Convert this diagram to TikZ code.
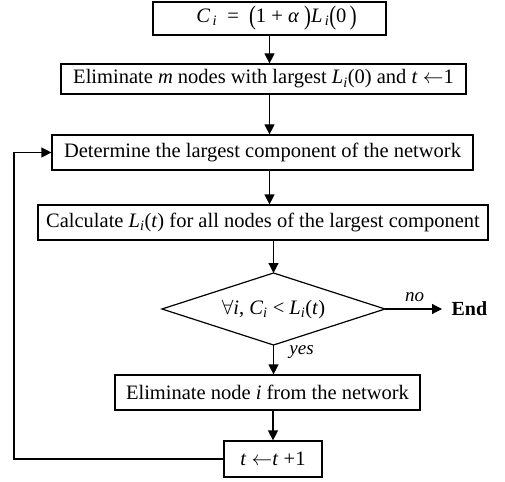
\documentclass[tikz,border=0pt]{standalone}
\usepackage{fontspec}
\setmainfont{Liberation Serif}
\usepackage{graphicx}
\usetikzlibrary{arrows.meta}

% italic variable with italic subscript
\newcommand{\vsub}[2]{\textit{#1}\textsubscript{\textit{#2}}}
\newcommand{\tallpar}[1]{\raisebox{-0.12em}{\scalebox{1}[1.3]{#1}}}

\begin{document}
\begin{tikzpicture}[x=1pt,y=-1pt,
  line width=1.2pt,
  every node/.style={font=\fontsize{20.5}{24}\selectfont},
  procbox/.style={draw, inner sep=0pt, minimum height=35pt},
  flow/.style={-{Triangle[length=10pt,width=10pt]}},
  branch/.style={font=\fontsize{19}{22}\selectfont\itshape}]

\useasboundingbox (0,0) rectangle (505,481);

% process boxes
\node[procbox, minimum width=233pt, minimum height=33pt] (b1) at (269.5,18.5)
  {\hspace{14pt}\vsub{C}{\,i}\ \ =\ \ \tallpar{(}1 +\ \textit{α}\ \tallpar{)}\vsub{L}{\,i}\tallpar{(}0\,\tallpar{)}};
\node[procbox, minimum width=405pt, minimum height=30pt] (b2) at (263.5,79)
  {Eliminate \textit{m} nodes with largest \vsub{L}{i}(0) and \textit{t} $\leftarrow$1};
\node[procbox, minimum width=421pt] (b3) at (262.5,152.5)
  {Determine the largest component of the network};
\node[procbox, minimum width=450pt] (b4) at (263,222.5)
  {Calculate \vsub{L}{i}(\textit{t}) for all nodes of the largest component};

% decision
\node (d) at (273.5,309) {$\forall$\textit{i}, \vsub{C}{i} < \vsub{L}{i}(\textit{t})};
\coordinate (dtop) at (273.5,273);
\coordinate (dbot) at (273.5,345);
\coordinate (dleft) at (162,309);
\coordinate (dright) at (385,309);
\draw (dtop) -- (dright) -- (dbot) -- (dleft) -- cycle;

\node[font=\fontsize{20}{24}\selectfont\bfseries, inner sep=0pt, anchor=west] (end) at (451,309) {End};

\node[procbox, minimum width=305pt] (b5) at (267.5,392.5)
  {Eliminate node \textit{i} from the network};
\node[procbox, minimum width=98pt, minimum height=36pt] (b6) at (273,459)
  {\textit{t} $\leftarrow$\textit{t} +1};

% connectors
\draw[flow] (b1.south) -- (b1.south |- b2.north);
\draw[flow] (b2.south -| b1.south) -- (b1.south |- b3.north);
\draw[flow] (b3.south -| b1.south) -- (b1.south |- b4.north);
\draw[flow] (b4.south -| dtop) -- (dtop);
\draw[flow, shorten >=9pt] (dright) -- (end.west) node[branch, pos=0.45, above=3pt] {no};
\draw[flow] (dbot) -- (dbot |- b5.north) node[branch, pos=0.25, right=12pt] {yes};
\draw[flow] (b5.south -| b6.north) -- (b6.north);

% loop back to the component search
\coordinate (loop) at (14,459);
\draw[flow] (b6.west) -- (loop) |- (b3.west);
\end{tikzpicture}
\end{document}
